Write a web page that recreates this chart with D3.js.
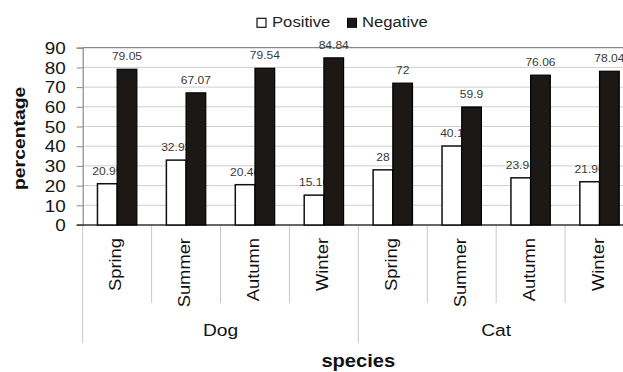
<!DOCTYPE html>
<html>
<head>
<meta charset="utf-8">
<script src="https://cdn.jsdelivr.net/npm/d3@7"></script>
<style>
  html, body { margin: 0; padding: 0; background: #fff; }
  svg { display: block; }
  text { font-family: "Liberation Sans", Arial, Helvetica, sans-serif; }
</style>
</head>
<body>
<svg id="chart" width="623" height="372"></svg>
<script>
const categories = ["Spring", "Summer", "Autumn", "Winter", "Spring", "Summer", "Autumn", "Winter"];
const groups = ["Dog", "Cat"];
const seriesNames = ["Positive", "Negative"];
const positive = [20.95, 32.93, 20.46, 15.16, 28, 40.1, 23.94, 21.96];
const negative = [79.05, 67.07, 79.54, 84.84, 72, 59.9, 76.06, 78.04];
const yTicks = [0, 10, 20, 30, 40, 50, 60, 70, 80, 90];

const svg = d3.select("#chart");
const W = 623, H = 372;
const pLeft = 82.7, pRight = 634, pTop = 47.7, pBottom = 225;
const SX = 1.15;

const idx = categories.map((c, i) => i);
const x0 = d3.scaleBand().domain(idx).range([pLeft, pRight]).padding(0);
const x1 = d3.scaleBand().domain(seriesNames).range([0, x0.bandwidth()]).paddingInner(0).paddingOuter(0.75);
const y = d3.scaleLinear().domain([0, 90]).range([pBottom, pTop]);

function txt(g, x, yy, s, o) {
  o = o || {};
  return g.append("text")
    .attr("transform", `translate(${x},${yy}) rotate(${o.rotate || 0}) scale(${o.sx || SX},1)`)
    .attr("text-anchor", o.anchor || "middle")
    .attr("font-size", o.size || 14)
    .attr("font-weight", o.weight || "normal")
    .attr("fill", o.fill || "#111")
    .text(s);
}

// gridlines
svg.append("g").selectAll("line").data(yTicks.filter(t => t > 0)).join("line")
  .attr("x1", pLeft).attr("x2", W)
  .attr("y1", d => y(d)).attr("y2", d => y(d))
  .attr("stroke", d => d === 90 ? "#8a8a8a" : "#cfcfcf")
  .attr("stroke-width", d => d === 90 ? 1.3 : 1);

// y axis
const yAxis = d3.axisLeft(y).tickValues(yTicks).tickSize(6).tickPadding(11).tickFormat(d3.format("d"));
const ya = svg.append("g").attr("transform", `translate(${pLeft},0)`).call(yAxis);
ya.select(".domain").attr("stroke", "#888").attr("stroke-width", 1.2);
ya.selectAll(".tick line").attr("stroke", "#888");
ya.selectAll(".tick text")
  .attr("font-size", 16)
  .attr("fill", "#151515")
  .attr("font-family", "Liberation Sans, Arial, sans-serif")
  .attr("dy", "0.36em");
ya.selectAll(".tick text").each(function () {
  const t = d3.select(this);
  const xx = +t.attr("x");
  t.attr("x", null).attr("transform", `translate(${xx},0) scale(1.18,1)`);
});

// separator lines below axis
svg.append("g").selectAll("line").data(d3.range(categories.length + 1)).join("line")
  .attr("x1", i => pLeft + i * x0.step()).attr("x2", i => pLeft + i * x0.step())
  .attr("y1", pBottom)
  .attr("y2", i => (i % 4 === 0) ? 343 : 303)
  .attr("stroke", "#c8c8c8").attr("stroke-width", 1);

// zero axis line
svg.append("line").attr("x1", pLeft - 6).attr("x2", W).attr("y1", pBottom).attr("y2", pBottom)
  .attr("stroke", "#333").attr("stroke-width", 1.3);

// positive bars
svg.append("g").selectAll("rect").data(idx).join("rect")
  .attr("x", i => x0(i) + x1("Positive"))
  .attr("y", i => y(positive[i]))
  .attr("width", x1.bandwidth())
  .attr("height", i => y(0) - y(positive[i]))
  .attr("fill", "#fff").attr("stroke", "#111").attr("stroke-width", 1.5);

// positive labels
const lab = svg.append("g");
idx.forEach(i => {
  txt(lab, x0(i) + x1("Positive") + x1.bandwidth() / 2, y(positive[i]) - 9, String(positive[i]),
    { size: 10.5, fill: "#3a3a3a" });
});

// negative bars
svg.append("g").selectAll("rect").data(idx).join("rect")
  .attr("x", i => x0(i) + x1("Negative"))
  .attr("y", i => y(negative[i]))
  .attr("width", x1.bandwidth())
  .attr("height", i => y(0) - y(negative[i]))
  .attr("fill", "#1c1815").attr("stroke", "#000").attr("stroke-width", 1.2);

// negative labels
const lab2 = svg.append("g");
idx.forEach(i => {
  txt(lab2, x0(i) + x1("Negative") + x1.bandwidth() / 2, y(negative[i]) - 9, String(negative[i]),
    { size: 10.5, fill: "#3a3a3a" });
});

// category labels
const cl = svg.append("g");
idx.forEach(i => {
  txt(cl, x0(i) + x0.bandwidth() / 2 + 4, 238, categories[i],
    { size: 17, rotate: -90, anchor: "end", sx: 1.08 });
});

// group labels
groups.forEach((g, gi) => {
  const cx = pLeft + (gi * 4 + 2) * x0.step();
  txt(svg, cx, 336, g, { size: 17, sx: 1.13 });
});

// axis titles
txt(svg, 358.3, 367, "species", { size: 17.5, weight: "bold" });
txt(svg, 24.7, 138.3, "percentage", { size: 17, weight: "bold", rotate: -90, sx: 1.14 });

// legend
const lg = svg.append("g");
lg.append("rect").attr("x", 257).attr("y", 18.3).attr("width", 9).attr("height", 9)
  .attr("fill", "#fff").attr("stroke", "#111").attr("stroke-width", 1.2);
txt(lg, 272, 26.5, seriesNames[0], { size: 14.5, anchor: "start", fill: "#222" });
lg.append("rect").attr("x", 347.5).attr("y", 18.3).attr("width", 9).attr("height", 9)
  .attr("fill", "#1c1815").attr("stroke", "#000").attr("stroke-width", 1);
txt(lg, 362, 26.5, seriesNames[1], { size: 14.5, anchor: "start", fill: "#222" });
</script>
</body>
</html>
